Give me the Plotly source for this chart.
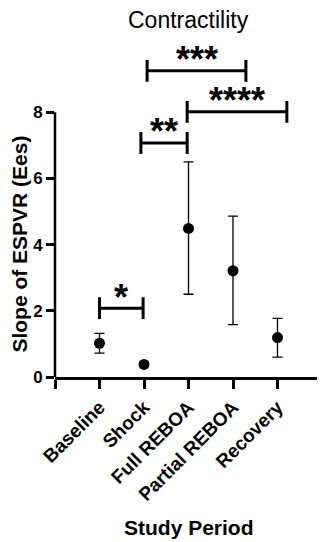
import plotly.graph_objects as go

# ---- data ----
categories = ["Baseline", "Shock", "Full REBOA", "Partial REBOA", "Recovery"]
means = [1.02, 0.38, 4.49, 3.21, 1.19]
upper = [1.32, 0.44, 6.50, 4.86, 1.77]
lower = [0.72, 0.32, 2.50, 1.58, 0.60]
y_ticks = [0, 2, 4, 6, 8]

# significance brackets: (x start, x end, y level, label)
bracket_x1 = [0.0, 0.93, 1.07, 1.97]
bracket_x2 = [0.98, 1.97, 3.29, 4.21]
bracket_y = [2.08, 7.07, 9.25, 8.01]
bracket_labels = ["*", "**", "***", "****"]

FONT = "Liberation Sans, Arial, sans-serif"
x_pos = list(range(len(categories)))

fig = go.Figure()
fig.add_trace(go.Scatter(
    x=x_pos, y=means, mode="markers",
    marker=dict(color="black", size=11, symbol="circle"),
    error_y=dict(type="data", symmetric=False,
                 array=[u - m for u, m in zip(upper, means)],
                 arrayminus=[m - l for m, l in zip(means, lower)],
                 color="black", thickness=1.3, width=5),
    showlegend=False, cliponaxis=False,
))

shapes = []
annotations = []
cap = 0.33
for x1, x2, yv, lab in zip(bracket_x1, bracket_x2, bracket_y, bracket_labels):
    line = dict(color="black", width=3)
    shapes.append(dict(type="line", xref="x", yref="y", x0=x1, x1=x2, y0=yv, y1=yv, line=line))
    shapes.append(dict(type="line", xref="x", yref="y", x0=x1, x1=x1, y0=yv - cap, y1=yv + cap, line=line))
    shapes.append(dict(type="line", xref="x", yref="y", x0=x2, x1=x2, y0=yv - cap, y1=yv + cap, line=line))
    annotations.append(dict(x=(x1 + x2) / 2, y=yv, xref="x", yref="y", text=lab,
                            showarrow=False, yanchor="middle", yshift=11,
                            font=dict(family=FONT, size=36, color="black", weight="bold")))

y_max = 10
# y axis line only spanning 0..8
shapes.append(dict(type="line", xref="paper", yref="paper", x0=0, x1=0,
                   y0=0, y1=max(y_ticks) / y_max, line=dict(color="black", width=2.5)))

annotations.append(dict(x=0, y=(max(y_ticks) / 2) / y_max, xref="paper", yref="paper",
                        text="Slope of ESPVR (Ees)", textangle=-90, showarrow=False,
                        xanchor="center", yanchor="middle", xshift=-35,
                        font=dict(family=FONT, size=21, color="black", weight="bold")))
annotations.append(dict(x=0.5, y=0, xref="paper", yref="paper", text="Study Period",
                        showarrow=False, xanchor="center", yanchor="middle", yshift=-150,
                        font=dict(family=FONT, size=21, color="black", weight="bold")))
annotations.append(dict(x=0.5, y=1, xref="paper", yref="paper", text="Contractility",
                        showarrow=False, xanchor="center", yanchor="middle", yshift=26,
                        font=dict(family=FONT, size=23, color="black")))

fig.update_layout(
    width=325, height=542,
    margin=dict(l=47, r=11, t=38, b=173, autoexpand=False),
    plot_bgcolor="white", paper_bgcolor="white",
    shapes=shapes, annotations=annotations,
    font=dict(family=FONT, color="black"),
)
fig.update_xaxes(
    range=[-1, len(categories)], automargin=False,
    tickvals=[-1] + x_pos + [len(categories)],
    ticktext=[""] + categories + [""],
    tickangle=-45, ticks="outside", ticklen=9, tickwidth=2.5, tickcolor="black",
    showline=True, linewidth=2.5, linecolor="black", showgrid=False, zeroline=False,
    tickfont=dict(family=FONT, size=19, color="black", weight="bold"),
)
fig.update_yaxes(
    range=[0, y_max], tickvals=y_ticks, automargin=False,
    ticks="outside", ticklen=8, tickwidth=2.5, tickcolor="black",
    showline=False, showgrid=False, zeroline=False,
    tickfont=dict(family=FONT, size=17, color="black", weight="bold"),
)

fig.write_html("out.html")
